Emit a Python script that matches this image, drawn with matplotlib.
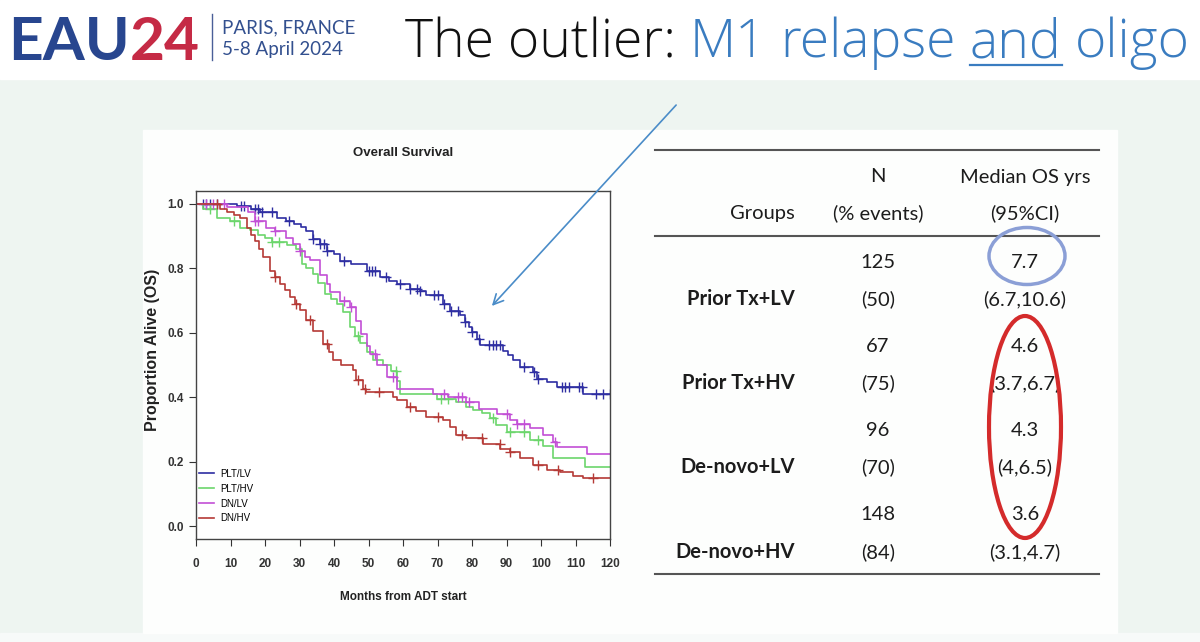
import numpy as np
import matplotlib
matplotlib.use('Agg')
import matplotlib.pyplot as plt
from matplotlib import font_manager
from matplotlib.patches import Rectangle, Ellipse, FancyArrowPatch

# ---------------- data ----------------
groups_km = ['PLT/LV', 'PLT/HV', 'DN/LV', 'DN/HV']
colors_km = ['#2e2ea2', '#6cd66c', '#c24fd6', '#b53a36']

t_plt_lv = [0, 12, 16, 18.5, 23.4, 26, 28.5, 30.5, 32, 34, 36, 37.9, 40, 41.7, 45, 49.5, 53.3, 56,
            58.2, 62, 64.9, 66.8, 71.7, 73.6, 76.5, 78, 79, 80, 81.4, 82.3, 89.1, 90.5, 92, 93.9,
            97.8, 98.8, 101.6, 104.6, 112.2]
s_plt_lv = [1.0, 0.992, 0.984, 0.976, 0.957, 0.948, 0.938, 0.927, 0.915, 0.891, 0.875, 0.855, 0.846,
            0.824, 0.815, 0.793, 0.773, 0.762, 0.752, 0.737, 0.731, 0.716, 0.69, 0.669, 0.654, 0.633,
            0.618, 0.602, 0.581, 0.561, 0.545, 0.53, 0.514, 0.494, 0.478, 0.458, 0.447, 0.432, 0.411]
c_plt_lv = [2, 3, 4, 6, 13, 14, 17, 18, 19, 22, 27, 34, 36, 37, 38, 43, 50, 51, 52, 55, 59, 62, 64,
            65, 69, 70, 72, 74, 76, 78, 80, 82, 85, 86, 87, 88, 95, 98, 99, 106, 107, 108, 111, 112,
            116, 118, 120]

t_plt_hv = [0, 2, 6, 9.8, 12.8, 15.7, 18, 20, 21.9, 26.3, 29, 30.7, 32, 33.9, 35.5, 37.4, 39, 40.8,
            42.5, 44.6, 46, 47.5, 49.5, 51.4, 54.3, 56.5, 58.2, 59.1, 69.8, 75.5, 78.4, 80.3, 83,
            85.2, 87.1, 90.1, 96.8, 100.6, 103.6, 112.8]
s_plt_hv = [1.0, 0.985, 0.957, 0.947, 0.926, 0.92, 0.905, 0.893, 0.881, 0.871, 0.861, 0.814, 0.8,
            0.783, 0.755, 0.721, 0.705, 0.69, 0.664, 0.618, 0.59, 0.567, 0.54, 0.514, 0.499, 0.48,
            0.45, 0.411, 0.396, 0.385, 0.37, 0.36, 0.35, 0.335, 0.313, 0.292, 0.266, 0.249, 0.21,
            0.184]
c_plt_hv = [4, 11, 22, 24, 47, 58, 71, 73, 86, 91, 95, 99]

t_dn_lv = [0, 9, 15, 17, 20.4, 23, 26, 28.2, 30, 31.5, 33, 35.9, 37.9, 38.8, 41.7, 44.6, 46.5, 47.9,
           49.5, 50.4, 52.4, 55.3, 58.2, 68.8, 73, 78.4, 82, 87.2, 91, 93, 96.8, 100.7, 103.6,
           104.6, 113.2]
s_dn_lv = [1.0, 0.99, 0.975, 0.948, 0.926, 0.915, 0.895, 0.876, 0.855, 0.835, 0.825, 0.778, 0.75,
           0.726, 0.7, 0.68, 0.638, 0.597, 0.56, 0.535, 0.499, 0.463, 0.427, 0.411, 0.4, 0.385,
           0.365, 0.349, 0.328, 0.318, 0.303, 0.282, 0.261, 0.246, 0.225]
c_dn_lv = [3, 5, 8, 17, 18, 23, 30, 43, 45, 52, 57, 72, 76, 77, 79, 90, 93, 95, 104]

t_dn_hv = [0, 7, 9, 11, 12.8, 14.7, 16, 17.1, 18.3, 19.5, 21.4, 22.8, 24.3, 25.8, 27.2, 28.6, 30,
           32, 34, 36.9, 38.5, 39.8, 42, 45.6, 46.5, 48.5, 49.4, 57, 58.2, 61.1, 63.9, 66.8, 71.7,
           73.6, 75.5, 78.4, 83.3, 88.1, 91, 93.9, 97.7, 101.6, 105.5, 109.3, 112.2]
s_dn_hv = [1.0, 0.985, 0.975, 0.965, 0.957, 0.926, 0.905, 0.885, 0.86, 0.835, 0.793, 0.772, 0.752,
           0.732, 0.711, 0.69, 0.67, 0.64, 0.607, 0.566, 0.54, 0.514, 0.5, 0.483, 0.452, 0.427,
           0.416, 0.40, 0.39, 0.37, 0.357, 0.339, 0.329, 0.309, 0.282, 0.272, 0.254, 0.238, 0.231,
           0.21, 0.189, 0.174, 0.168, 0.155, 0.148]
c_dn_hv = [6, 23, 29, 33, 38, 47, 49, 53, 62, 70, 77, 83, 88, 91, 99, 105, 115]

x_ticks = list(range(0, 121, 10))
y_ticks = [0.0, 0.2, 0.4, 0.6, 0.8, 1.0]

table_groups = ['Prior Tx+LV', 'Prior Tx+HV', 'De-novo+LV', 'De-novo+HV']
table_n = ['125', '67', '96', '148']
table_events = ['(50)', '(75)', '(70)', '(84)']
table_median = ['7.7', '4.6', '4.3', '3.6']
table_ci = ['(6.7,10.6)', '(3.7,6.7)', '(4,6.5)', '(3.1,4.7)']

# ---------------- fonts ----------------
names = {f.name for f in font_manager.fontManager.ttflist}
def pick(*cands):
    for n in cands:
        if n in names:
            return n
    return 'DejaVu Sans'
NARROW = pick('Liberation Sans Narrow', 'Liberation Sans')
HUMAN = pick('Lato', 'Open Sans', 'DejaVu Sans')
TITLEF = pick('Open Sans', 'Lato', 'DejaVu Sans')
plt.rcParams['font.family'] = [NARROW, 'DejaVu Sans']

fig = plt.figure(figsize=(12, 6.42), dpi=100)
bg = fig.add_axes([0, 0, 1, 1])
bg.set_xlim(0, 1200); bg.set_ylim(642, 0); bg.axis('off')
bg.add_patch(Rectangle((0, 0), 1200, 642, color='#eef5f1', zorder=0))
bg.add_patch(Rectangle((0, 0), 1200, 79, color='white', zorder=0))
bg.add_patch(Rectangle((0, 633), 1200, 9, color='#f7faf9', zorder=0))
bg.add_patch(Rectangle((143, 130), 974, 503, color='#fdfefd', zorder=0))

r = fig.canvas.get_renderer()
inv = bg.transData.inverted()

def width_of(t):
    bb = t.get_window_extent(r)
    (x1, _), (x2, _) = inv.transform([[bb.x0, bb.y0], [bb.x1, bb.y1]])
    return x1, x2

def seq(pieces, x0, y, size, family, weight):
    probe1 = bg.text(0, 0, 'x x', fontsize=size, family=family, fontweight=weight)
    probe2 = bg.text(0, 0, 'xx', fontsize=size, family=family, fontweight=weight)
    sp = (width_of(probe1)[1] - width_of(probe1)[0]) - (width_of(probe2)[1] - width_of(probe2)[0])
    probe1.remove(); probe2.remove()
    x = x0
    arts = []
    unders = []
    for s, col, ul, spc in pieces:
        t = bg.text(x, y, s, fontsize=size, family=family, fontweight=weight, color=col,
                    va='baseline', ha='left')
        a, b = width_of(t)
        arts.append(t)
        if ul:
            unders.append((x, b, col))
        x = b + (sp if spc else 0)
    return arts, unders, x - x0

def fitted(pieces, x0, y, target_w, size0, family, weight):
    arts, unders, w = seq(pieces, x0, y, size0, family, weight)
    for a in arts:
        a.remove()
    size = size0 * target_w / w
    arts, unders, w = seq(pieces, x0, y, size, family, weight)
    return arts, unders, size

# header
fitted([('EAU', '#28468f', False, False), ('24', '#c52a45', False, False)], 8, 60, 192, 44,
       HUMAN, 'bold')
bg.plot([212, 212], [14, 60], color='#4a5f98', lw=1.0)
bg.text(222, 33, 'PARIS, FRANCE', fontsize=13.5, family=HUMAN, color='#33508f', va='baseline')
bg.text(222, 55, '5-8 April 2024', fontsize=13.5, family=HUMAN, color='#33508f', va='baseline')
blue_t = '#3a7cc0'
arts, unders, tsize = fitted([('The outlier:', '#111111', False, True), ('M1', blue_t, False, True),
                              ('relapse', blue_t, False, True), ('and', blue_t, True, True),
                              ('oligo', blue_t, False, False)], 405, 57, 785, 36, TITLEF, 'light')
for xa, xb, col in unders:
    bg.plot([xa, xb], [65, 65], color=col, lw=1.6)

# ---------------- KM plot ----------------
ax = fig.add_axes([196 / 1200, (642 - 539) / 642, 414 / 1200, 348 / 642])
ax.set_facecolor('white')
series = [(t_plt_lv, s_plt_lv, c_plt_lv), (t_plt_hv, s_plt_hv, c_plt_hv),
          (t_dn_lv, s_dn_lv, c_dn_lv), (t_dn_hv, s_dn_hv, c_dn_hv)]
for (t, s, c), name, col in zip(series, groups_km, colors_km):
    t = np.asarray(t, float); s = np.asarray(s, float)
    ax.step(np.append(t, 120), np.append(s, s[-1]), where='post', color=col, lw=1.2, label=name)
    c = np.asarray(c, float)
    idx = np.searchsorted(t, c, side='right') - 1
    ax.plot(c, s[idx], ls='none', marker='+', ms=7, mew=1.0, color=col)
ax.set_xlim(0, 120)
ax.set_ylim(-0.04, 1.04)
ax.set_xticks(x_ticks)
ax.set_xticklabels([str(v) for v in x_ticks], fontsize=8.5, fontweight='bold', family=NARROW)
ax.set_yticks(y_ticks)
ax.set_yticklabels(['%.1f' % v for v in y_ticks], fontsize=8.5, fontweight='bold', family=NARROW)
ax.tick_params(direction='out', length=5, width=0.8, colors='#333333', pad=4)
ax.tick_params(axis='x', pad=9)
for sp_ in ax.spines.values():
    sp_.set_color('#444444'); sp_.set_linewidth(1.0)
ax.set_ylabel('Proportion Alive (OS)', fontsize=11.5, fontweight='bold', family=NARROW, color='#222222')
ax.yaxis.set_label_coords(-0.087, 0.543)
ax.set_xlabel('Months from ADT start', fontsize=8.5, fontweight='bold', family=NARROW, color='#222222')
ax.xaxis.set_label_coords(0.5, -0.15)
ax.text(0.5, 1.109, 'Overall Survival', transform=ax.transAxes, ha='center', va='center',
        fontsize=9.5, fontweight='bold', family=NARROW, color='#222222')
ax.legend(loc='upper left', bbox_to_anchor=(0.0, 0.21), frameon=False, fontsize=7,
          handlelength=1.6, labelspacing=0.5, handletextpad=0.6, borderaxespad=0.0,
          borderpad=0.3)

# ---------------- table ----------------
tc = '#1c1c1c'
TS = 14.5
TF = HUMAN
bg.plot([655, 1099], [150, 150], color='#555555', lw=1.5)
bg.plot([655, 1099], [236, 236], color='#555555', lw=1.5)
bg.plot([655, 1099], [574, 574], color='#555555', lw=1.5)
bg.text(878, 177, 'N', fontsize=TS, family=TF, ha='center', va='center', color=tc)
bg.text(1025, 177, 'Median OS yrs', fontsize=TS, family=TF, ha='center', va='center', color=tc)
bg.text(795, 213, 'Groups', fontsize=TS, family=TF, ha='right', va='center', color=tc)
bg.text(878, 213, '(% events)', fontsize=TS, family=TF, ha='center', va='center', color=tc)
bg.text(1025, 213, '(95%CI)', fontsize=TS, family=TF, ha='center', va='center', color=tc)
row_top = [262, 346, 430, 515]
for i in range(4):
    y1 = row_top[i]; y2 = y1 + 37
    bg.text(795, y2, table_groups[i], fontsize=TS, family=TF, fontweight='bold', ha='right',
            va='center', color=tc)
    bg.text(878, y1, table_n[i], fontsize=TS, family=TF, ha='center', va='center', color=tc)
    bg.text(878, y2, table_events[i], fontsize=TS, family=TF, ha='center', va='center', color=tc)
    bg.text(1025, y1, table_median[i], fontsize=TS, family=TF, ha='center', va='center', color=tc)
    bg.text(1025, y2, table_ci[i], fontsize=TS, family=TF, ha='center', va='center', color=tc)

# ---------------- overlay: ellipses & arrow ----------------
ov = fig.add_axes([0, 0, 1, 1])
ov.set_xlim(0, 1200); ov.set_ylim(642, 0); ov.axis('off'); ov.patch.set_alpha(0)
ov.add_patch(Ellipse((1027, 256), 76, 57, fill=False, edgecolor='#8b9fd6', lw=2.5))
ov.add_patch(Ellipse((1025, 427), 72, 222, fill=False, edgecolor='#d42b2b', lw=3))
ov.add_patch(FancyArrowPatch((678, 103), (490, 308), arrowstyle='->', mutation_scale=18,
                             lw=1.2, color='#4a8cc8'))

fig.savefig('out.png', dpi=100)
